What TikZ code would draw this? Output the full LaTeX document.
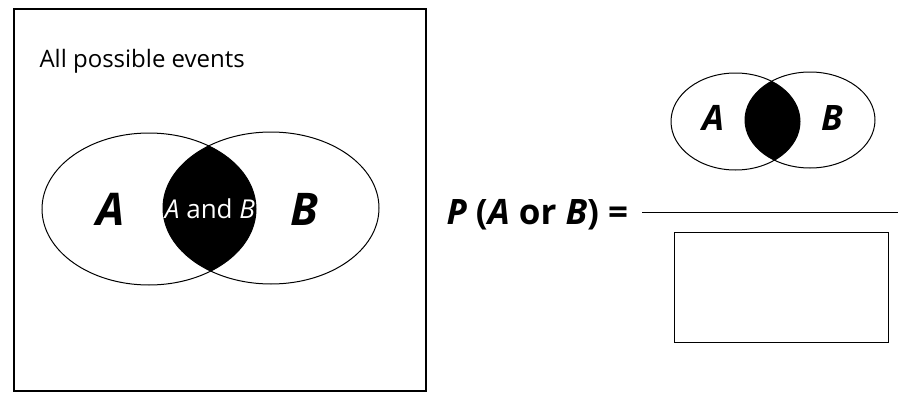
\documentclass[tikz,border=0pt]{standalone}
\usepackage{fontspec}
\setmainfont{Open Sans}
\begin{document}
\begin{tikzpicture}[x=1pt,y=-1pt,line width=1pt,
  lbl/.style={font=\fontsize{#1}{#1}\selectfont\bfseries\itshape, inner sep=0pt},
  venn/.style={draw=black, line width=1pt}]
\useasboundingbox (0,0) rectangle (898,394);
% frame
\draw[line width=1.4pt] (14,9) rectangle (426,391);
\node[anchor=base west, inner sep=0pt, font=\fontsize{24}{24}\selectfont] (title) at (39,67) {All possible events};
% big venn
\begin{scope}
  \clip (149,209) ellipse [x radius=107, y radius=76];
  \fill (271,208) ellipse [x radius=108, y radius=76];
\end{scope}
\draw[venn] (149,209) ellipse [x radius=107, y radius=76];
\draw[venn] (271,208) ellipse [x radius=108, y radius=76];
\node[lbl=45] (bigA) at (111,209) {A};
\node[lbl=45] (bigB) at (304,209) {B};
\node[inner sep=0pt, text=white, font=\fontsize{26}{26}\selectfont] (AandB) at (210,209) {\textit{A} and \textit{B}};
% formula
\node[anchor=base west, inner sep=0pt, font=\fontsize{35}{35}\selectfont\bfseries] (formula) at (446,224) {\textit{P} (\textit{A} or \textit{B}) =};
\draw (642,212) -- (898,212);
% small venn
\begin{scope}
  \clip (735.5,121.5) ellipse [x radius=64.5, y radius=48.5];
  \fill (810,120) ellipse [x radius=65, y radius=48];
\end{scope}
\draw[venn] (735.5,121.5) ellipse [x radius=64.5, y radius=48.5];
\draw[venn] (810,120) ellipse [x radius=65, y radius=48];
\node[lbl=35] (smA) at (713,118) {A};
\node[lbl=35] (smB) at (832,118) {B};
% answer box
\node[draw, line width=1pt, minimum width=214pt, minimum height=110pt, anchor=north west, inner sep=0pt] (ansbox) at (674,232) {};
\end{tikzpicture}
\end{document}
